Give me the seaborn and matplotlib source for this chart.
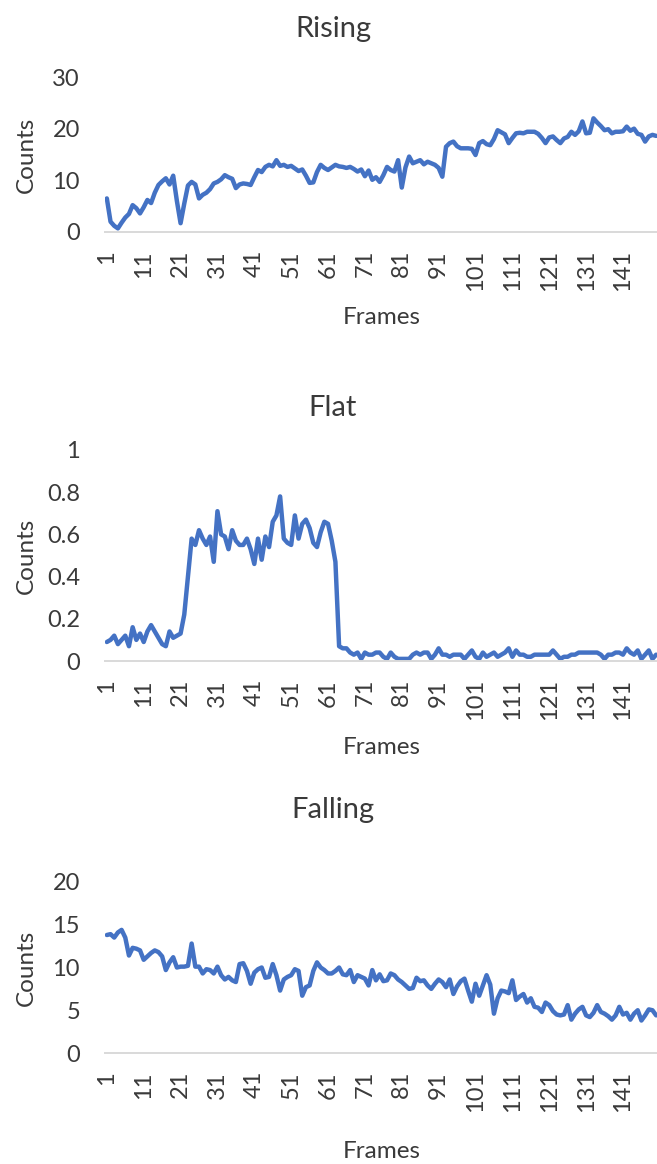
import pandas as pd
import seaborn as sns
import matplotlib.pyplot as plt

LINE_COLOR = '#4472C4'
TEXT_COLOR = '#3A3A3A'

frames = list(range(1, 151))

rising = [
    6.5, 2.0, 1.2, 0.7, 1.8, 2.8, 3.5, 5.2, 4.6, 3.6,
    4.8, 6.2, 5.6, 7.6, 9.1, 9.8, 10.4, 9.2, 10.9, 6.0,
    1.7, 5.5, 9.0, 9.7, 9.2, 6.5, 7.2, 7.6, 8.3, 9.4,
    9.7, 10.2, 11.0, 10.6, 10.3, 8.5, 9.2, 9.4, 9.3, 9.1,
    10.6, 12.0, 11.6, 12.6, 13.0, 12.7, 13.9, 12.8, 13.0, 12.6,
    12.8, 12.3, 11.8, 12.1, 10.9, 9.5, 9.6, 11.6, 13.0, 12.4,
    12.0, 12.5, 13.0, 12.7, 12.6, 12.4, 12.6, 12.2, 11.7, 12.1,
    10.8, 11.9, 10.1, 10.6, 9.7, 11.0, 12.6, 12.0, 11.7, 13.9,
    8.6, 12.5, 14.6, 13.3, 13.6, 13.9, 13.1, 13.6, 13.3, 13.0,
    12.4, 10.7, 16.5, 17.2, 17.5, 16.6, 16.2, 16.2, 16.2, 16.1,
    14.9, 17.2, 17.6, 17.0, 16.8, 18.0, 19.7, 19.3, 18.9, 17.2,
    18.2, 19.1, 19.2, 19.1, 19.4, 19.4, 19.4, 19.0, 18.2, 17.2,
    18.3, 18.5, 17.8, 17.2, 18.1, 18.4, 19.4, 18.8, 19.5, 21.4,
    19.1, 19.2, 22.0, 21.2, 20.5, 19.7, 19.9, 19.1, 19.4, 19.4,
    19.5, 20.4, 19.6, 20.0, 19.0, 18.8, 17.5, 18.5, 18.8, 18.6,
]

flat = [
    0.09, 0.10, 0.12, 0.08, 0.10, 0.12, 0.07, 0.16, 0.10, 0.13,
    0.09, 0.14, 0.17, 0.14, 0.11, 0.08, 0.07, 0.14, 0.11, 0.12,
    0.13, 0.22, 0.40, 0.58, 0.55, 0.62, 0.58, 0.55, 0.59, 0.47,
    0.71, 0.60, 0.59, 0.53, 0.62, 0.57, 0.55, 0.55, 0.58, 0.53,
    0.46, 0.58, 0.48, 0.59, 0.54, 0.66, 0.69, 0.78, 0.58, 0.56,
    0.55, 0.69, 0.58, 0.65, 0.67, 0.63, 0.56, 0.54, 0.61, 0.66,
    0.65, 0.57, 0.47, 0.07, 0.06, 0.06, 0.04, 0.03, 0.04, 0.01,
    0.04, 0.03, 0.03, 0.04, 0.04, 0.02, 0.01, 0.04, 0.02, 0.01,
    0.01, 0.01, 0.01, 0.03, 0.04, 0.03, 0.04, 0.04, 0.01, 0.03,
    0.06, 0.03, 0.03, 0.02, 0.03, 0.03, 0.03, 0.01, 0.03, 0.05,
    0.02, 0.01, 0.04, 0.02, 0.03, 0.04, 0.02, 0.03, 0.04, 0.06,
    0.02, 0.05, 0.03, 0.03, 0.02, 0.02, 0.03, 0.03, 0.03, 0.03,
    0.03, 0.05, 0.03, 0.01, 0.02, 0.02, 0.03, 0.03, 0.04, 0.04,
    0.04, 0.04, 0.04, 0.04, 0.03, 0.01, 0.03, 0.03, 0.04, 0.04,
    0.03, 0.06, 0.04, 0.03, 0.05, 0.01, 0.03, 0.05, 0.01, 0.03,
]

falling = [
    13.8, 13.9, 13.5, 14.1, 14.4, 13.5, 11.4, 12.3, 12.2, 12.0,
    10.9, 11.3, 11.7, 12.0, 11.8, 11.3, 9.7, 10.6, 11.2, 10.0,
    10.1, 10.1, 10.2, 12.8, 10.1, 10.1, 9.3, 9.8, 9.7, 9.3,
    10.1, 9.1, 8.6, 8.9, 8.5, 8.3, 10.4, 10.5, 9.6, 8.1,
    9.4, 9.8, 10.0, 8.8, 8.9, 10.4, 9.1, 7.3, 8.6, 8.9,
    9.1, 9.8, 9.6, 6.7, 7.7, 7.9, 9.6, 10.6, 10.0, 9.7,
    9.3, 9.3, 9.6, 10.0, 9.2, 9.1, 9.7, 8.3, 9.1, 8.9,
    8.7, 7.9, 9.7, 8.5, 9.2, 8.4, 8.5, 9.3, 9.1, 8.6,
    8.3, 7.9, 7.5, 7.6, 8.8, 8.4, 8.5, 7.9, 7.5, 8.1,
    8.6, 8.3, 7.7, 8.6, 6.9, 7.8, 8.4, 8.7, 7.3, 6.0,
    8.1, 6.7, 7.9, 9.1, 8.0, 4.6, 6.4, 7.3, 7.2, 7.0,
    8.5, 6.2, 6.6, 6.9, 5.9, 6.4, 5.4, 5.3, 4.8, 5.9,
    5.6, 4.9, 4.5, 4.4, 4.5, 5.6, 3.9, 4.6, 5.1, 5.4,
    4.4, 4.2, 4.7, 5.6, 4.8, 4.6, 4.3, 3.9, 4.4, 5.4,
    4.5, 4.7, 3.9, 4.6, 5.0, 3.8, 4.4, 5.1, 5.0, 4.4,
]

panels = [
    ('Rising', rising, 30, 10),
    ('Flat', flat, 1, 0.2),
    ('Falling', falling, 20, 5),
]

# axes boxes in figure pixels: (y of top value, y of zero)
boxes = [(77, 232), (450, 661), (882, 1053)]
title_base = [37, 416, 818]
xlabel_base = [324, 754, 1158]

W, H = 657, 1164
LEFT, RIGHT = 105, 658

sns.set_style('white')
plt.rcParams['font.family'] = ['Lato', 'DejaVu Sans']

fig = plt.figure(figsize=(W / 100, H / 100), dpi=100)

for (name, values, ymax, step), (top, zero), tb, lb in zip(panels, boxes, title_base, xlabel_base):
    df = pd.DataFrame({'Frames': frames, 'Counts': values})
    ax = fig.add_axes([LEFT / W, 1 - zero / H, (RIGHT - LEFT) / W, (zero - top) / H])
    sns.lineplot(data=df, x='Frames', y='Counts', ax=ax, color=LINE_COLOR, linewidth=3.2)

    ax.set_xlim(0.5, 150.5)
    ax.set_ylim(0, ymax)
    yt = [round(i * step, 2) for i in range(int(round(ymax / step)) + 1)]
    ax.set_yticks(yt)
    ax.set_yticklabels([('%g' % v) for v in yt])
    ax.set_xticks(list(range(1, 151, 10)))
    ax.set_xticklabels([str(v) for v in range(1, 151, 10)], rotation=90)

    for side in ['top', 'right', 'left']:
        ax.spines[side].set_visible(False)
    ax.spines['bottom'].set_color('#D9D9D9')
    ax.spines['bottom'].set_linewidth(1.4)
    ax.tick_params(axis='both', length=0, labelsize=17, colors=TEXT_COLOR)
    ax.tick_params(axis='y', pad=18)
    ax.tick_params(axis='x', pad=13)
    ax.patch.set_alpha(0)

    ax.set_ylabel('Counts', fontsize=17.5, color=TEXT_COLOR)
    ax.set_xlabel('Frames', fontsize=17.5, color=TEXT_COLOR)
    ax.yaxis.set_label_coords((26 - LEFT) / (RIGHT - LEFT), 0.5)
    ax.xaxis.set_label_coords(0.5, (zero - lb) / (zero - top))
    ax.xaxis.label.set_va('baseline')
    ax.yaxis.label.set_va('center')

    fig.text(333 / W, 1 - tb / H, name, ha='center', va='baseline',
             fontsize=21, color=TEXT_COLOR)

plt.savefig('out.png', dpi=100)
plt.close('all')
